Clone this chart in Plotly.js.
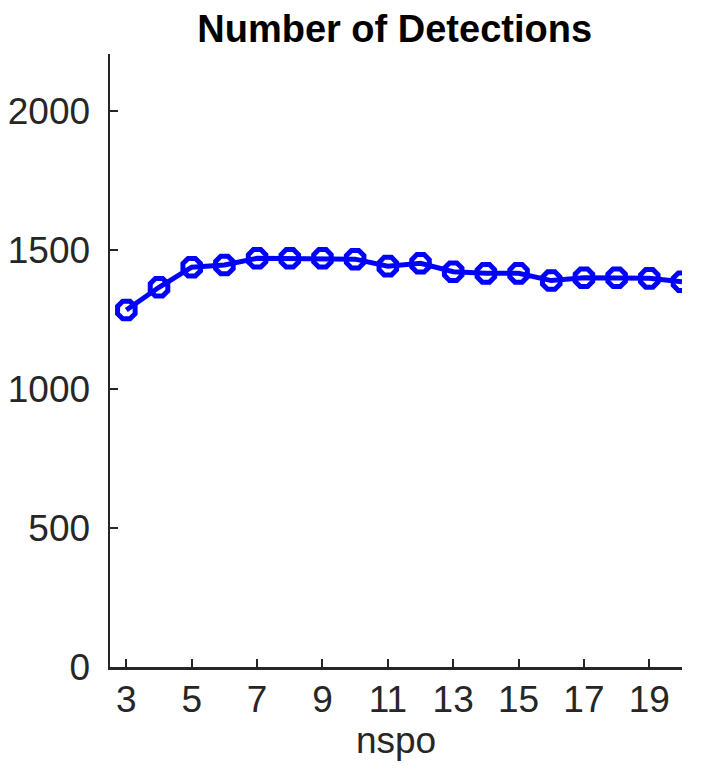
<!DOCTYPE html>
<html>
<head>
<meta charset="utf-8">
<script src="https://cdn.plot.ly/plotly-3.0.1.min.js"></script>
<style>
  html, body { margin: 0; padding: 0; background: #fff; }
  #chart { width: 706px; height: 770px; }
</style>
</head>
<body>
<div id="chart"></div>
<script>
// nspo values and detection counts
const nspo = [3, 4, 5, 6, 7, 8, 9, 10, 11, 12, 13, 14, 15, 16, 17, 18, 19, 20];
const detections = [1284, 1366, 1438, 1446, 1470, 1470, 1470, 1467, 1442, 1452, 1422, 1416, 1416, 1390, 1400, 1400, 1398, 1386];
const xTicks = [3, 5, 7, 9, 11, 13, 15, 17, 19];
const yTicks = [0, 500, 1000, 1500, 2000];

const axisColor = '#262626';
const fontFamily = 'Liberation Sans, Arial, sans-serif';

const trace = {
    x: nspo,
    y: detections,
    type: 'scatter',
    mode: 'lines+markers',
    line: { color: '#0000ff', width: 5 },
    marker: {
        symbol: 'octagon-open',
        size: 19,
        color: '#0000ff',
        line: { color: '#0000ff', width: 5 }
    },
    hoverinfo: 'x+y'
};

const layout = {
    width: 706,
    height: 770,
    paper_bgcolor: '#ffffff',
    plot_bgcolor: '#ffffff',
    margin: { l: 110, r: 24, t: 54, b: 103 },
    showlegend: false,
    font: { family: fontFamily, size: 37, color: axisColor },
    title: {
        text: '<b>Number of Detections</b>',
        font: { family: fontFamily, size: 38, color: '#000000' },
        x: 0.559, xanchor: 'center',
        y: 0.963, yanchor: 'middle'
    },
    xaxis: {
        range: [2.5, 20],
        tickvals: xTicks,
        ticktext: xTicks.map(String),
        ticks: 'inside',
        ticklen: 8,
        tickwidth: 2,
        tickcolor: axisColor,
        showline: true,
        linecolor: axisColor,
        linewidth: 2.5,
        showgrid: false,
        zeroline: false,
        mirror: false,
        ticklabelstandoff: -2,
        tickfont: { family: fontFamily, size: 37, color: axisColor },
        title: { text: 'nspo', font: { family: fontFamily, size: 37, color: axisColor }, standoff: 0 }
    },
    yaxis: {
        range: [0, 2205],
        tickvals: yTicks,
        ticktext: yTicks.map(String),
        ticks: 'inside',
        ticklen: 8,
        tickwidth: 2,
        tickcolor: axisColor,
        showline: true,
        linecolor: axisColor,
        linewidth: 2.5,
        showgrid: false,
        zeroline: false,
        mirror: false,
        ticklabelstandoff: 10,
        tickfont: { family: fontFamily, size: 37, color: axisColor }
    }
};

Plotly.newPlot('chart', [trace], layout, { displayModeBar: false, staticPlot: true });
</script>
</body>
</html>
